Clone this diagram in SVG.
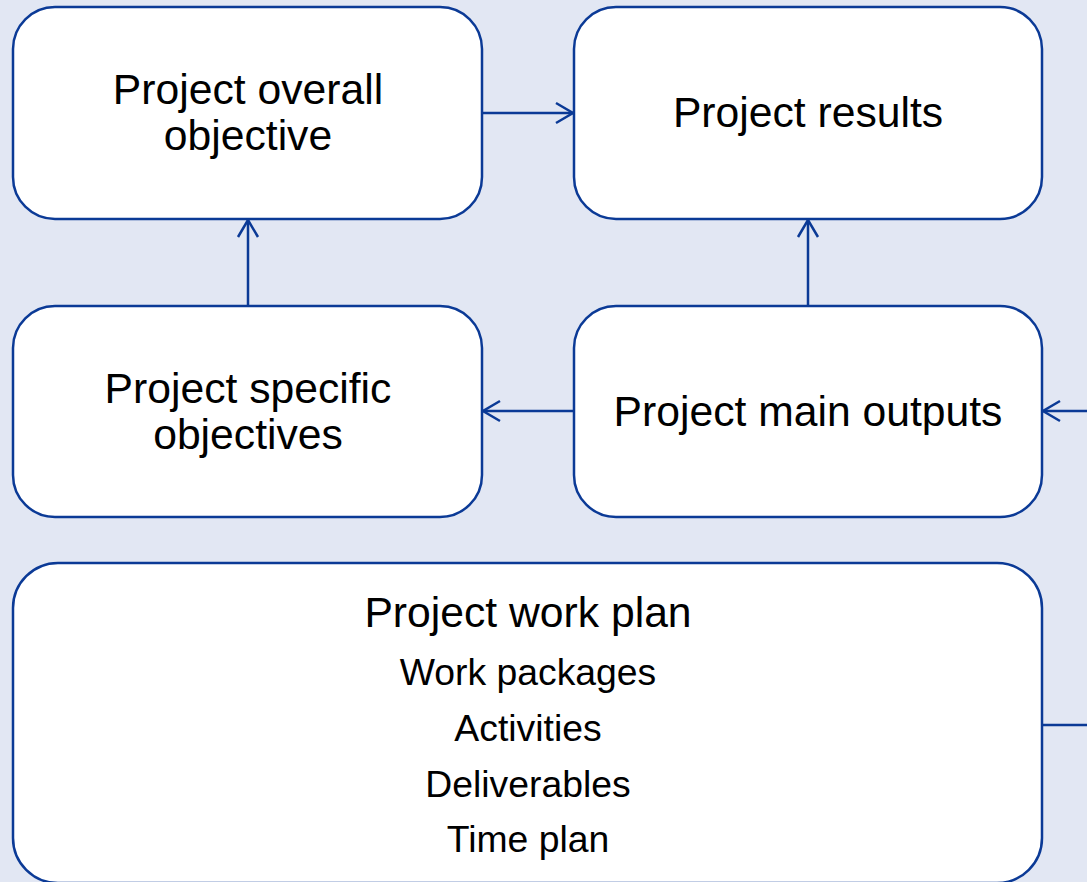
<svg xmlns="http://www.w3.org/2000/svg" width="1087" height="882" viewBox="0 0 1087 882">
<style>
.box{fill:#ffffff;stroke:#0b3a96;stroke-width:2.5}
.t{font-family:"Liberation Sans",Arial,sans-serif;font-size:42.67px;fill:#000;text-anchor:middle}
.s{font-family:"Liberation Sans",Arial,sans-serif;font-size:37.33px;fill:#000;text-anchor:middle}
.c{fill:none;stroke:#0b3a96;stroke-width:2.5}
</style>
<defs>
<marker id="ah" markerUnits="userSpaceOnUse" viewBox="0 0 20 22" markerWidth="20" markerHeight="22" refX="18" refY="11" orient="auto" overflow="visible">
<path d="M1,1 L18,11 L1,21" fill="none" stroke="#0b3a96" stroke-width="2.5"/>
</marker>
</defs>
<rect width="1087" height="882" fill="#e2e7f3"/>
<g id="connectors">
<line class="c" x1="482" y1="113" x2="573" y2="113" marker-end="url(#ah)"/>
<line class="c" x1="248" y1="306" x2="248" y2="220" marker-end="url(#ah)"/>
<line class="c" x1="808" y1="306" x2="808" y2="220" marker-end="url(#ah)"/>
<line class="c" x1="574" y1="411" x2="483" y2="411" marker-end="url(#ah)"/>
<line class="c" x1="1100" y1="411" x2="1043" y2="411" marker-end="url(#ah)"/>
<line class="c" x1="1042" y1="725" x2="1100" y2="725"/>
</g>
<g id="n1">
<rect class="box" x="13" y="7" width="469" height="212" rx="42" ry="42"/>
<text class="t" x="248" y="104">Project overall</text>
<text class="t" x="248" y="150">objective</text>
</g>
<g id="n2">
<rect class="box" x="574" y="7" width="468" height="212" rx="42" ry="42"/>
<text class="t" x="808" y="127">Project results</text>
</g>
<g id="n3">
<rect class="box" x="13" y="306" width="469" height="211" rx="42" ry="42"/>
<text class="t" x="248" y="403">Project specific</text>
<text class="t" x="248" y="449">objectives</text>
</g>
<g id="n4">
<rect class="box" x="574" y="306" width="468" height="211" rx="42" ry="42"/>
<text class="t" x="808" y="426">Project main outputs</text>
</g>
<g id="n5">
<rect class="box" x="13" y="563" width="1029" height="320" rx="45" ry="45"/>
<text class="t" x="528" y="627">Project work plan</text>
<text class="s" x="528" y="685">Work packages</text>
<text class="s" x="528" y="741">Activities</text>
<text class="s" x="528" y="797">Deliverables</text>
<text class="s" x="528" y="852">Time plan</text>
</g>
</svg>
